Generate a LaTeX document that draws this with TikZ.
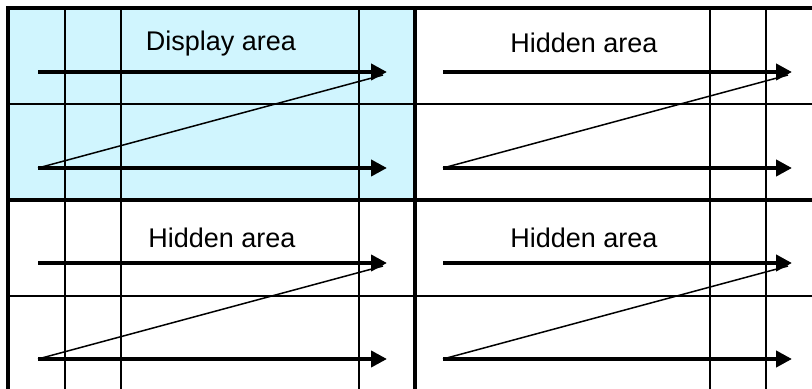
\documentclass[tikz,border=0pt]{standalone}
\usepackage{fontspec}
\setmainfont{Liberation Sans}
\usetikzlibrary{arrows.meta}

\definecolor{dispblue}{RGB}{208,245,254}

\begin{document}
\begin{tikzpicture}[x=0.5pt,y=-0.5pt,
    frame/.style={line width=2pt},
    grid/.style={line width=0.75pt},
    scan/.style={line width=2pt,-{Triangle[length=8pt,width=8pt]}},
    retrace/.style={line width=0.75pt},
    area/.style={inner sep=0pt,anchor=base,font=\fontsize{13.5}{16}\selectfont}]
    \useasboundingbox (0,0) rectangle (812,389);
    % shaded display quarter
    \fill[dispblue] (8,8) rectangle (415,200);
    % pixel grid
    \foreach \x in {65,121,359,710,766} {
        \draw[grid] (\x,8) -- (\x,389);
    }
    \foreach \y in {104,296} {
        \draw[grid] (8,\y) -- (812,\y);
    }
    % area borders
    \draw[frame] (8,389) -- (8,8) -- (812,8);
    \draw[frame] (8,200) -- (812,200);
    \draw[frame] (415,8) -- (415,389);
    % scan lines in each area
    \foreach \q/\dx/\dy/\lx/\ly/\txt in {tl/0/0/221/51/Display area,tr/405/0/584/53/Hidden area,bl/0/191/222/248/Hidden area,br/405/191/584/248/Hidden area} {
        \coordinate (\q-s1) at (38+\dx,72+\dy);
        \coordinate (\q-e1) at (387+\dx,72+\dy);
        \coordinate (\q-s2) at (38+\dx,168+\dy);
        \coordinate (\q-e2) at (387+\dx,168+\dy);
        \coordinate (\q-r) at (383+\dx,75+\dy);
        \node[area] (\q-lbl) at (\lx,\ly) {\txt};
        \draw[scan] (\q-s1) -- (\q-e1);
        \draw[retrace] (\q-s2) -- (\q-r);
        \draw[scan] (\q-s2) -- (\q-e2);
    }
\end{tikzpicture}
\end{document}
